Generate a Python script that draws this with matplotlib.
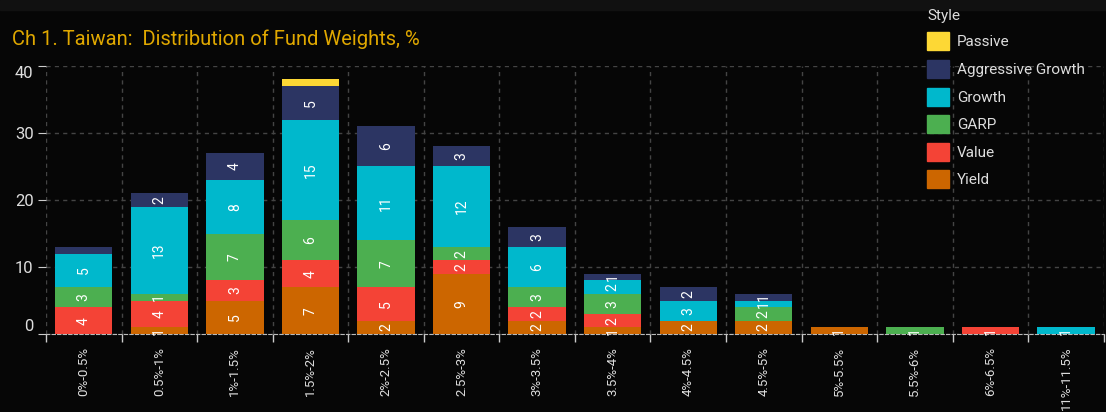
import matplotlib
matplotlib.use("Agg")
import matplotlib.pyplot as plt
from matplotlib.patches import Patch, Rectangle
import numpy as np

plt.rcParams['font.family'] = ['Roboto', 'DejaVu Sans']

bins = ['0%-0.5%', '0.5%-1%', '1%-1.5%', '1.5%-2%', '2%-2.5%', '2.5%-3%',
        '3%-3.5%', '3.5%-4%', '4%-4.5%', '4.5%-5%', '5%-5.5%', '5.5%-6%',
        '6%-6.5%', '11%-11.5%']

# stacked from the bottom up
yield_ = [0, 1, 5, 7, 2, 9, 2, 1, 2, 2, 1, 0, 0, 0]
value = [4, 4, 3, 4, 5, 2, 2, 2, 0, 0, 0, 0, 1, 0]
garp = [3, 1, 7, 6, 7, 2, 3, 3, 0, 2, 0, 1, 0, 0]
growth = [5, 13, 8, 15, 11, 12, 6, 2, 3, 1, 0, 0, 0, 1]
agg_growth = [1, 2, 4, 5, 6, 3, 3, 1, 2, 1, 0, 0, 0, 0]
passive = [0, 0, 0, 1, 0, 0, 0, 0, 0, 0, 0, 0, 0, 0]

series = [('Yield', yield_, '#cc6600'),
          ('Value', value, '#f44336'),
          ('GARP', garp, '#4caf50'),
          ('Growth', growth, '#00b8cc'),
          ('Aggressive Growth', agg_growth, '#2c3563'),
          ('Passive', passive, '#fdd835')]

# segments that carry no label in the original
no_label = {('Aggressive Growth', 0), ('Passive', 3)}

bg = '#060606'
fig = plt.figure(figsize=(11.06, 4.12), dpi=100, facecolor=bg)
fig.patches.append(Rectangle((0, 0.975), 1, 0.025, transform=fig.transFigure,
                             color='#111111', zorder=0))
ax = fig.add_axes([0.0416, 0.189, 0.9564, 0.651])
ax.set_facecolor(bg)

x = np.arange(len(bins))
bottom = np.zeros(len(bins))
for name, vals, col in series:
    vals = np.array(vals, dtype=float)
    ax.bar(x, vals, 0.76, bottom=bottom, color=col, zorder=3, label=name)
    for i, v in enumerate(vals):
        if v > 0 and (name, i) not in no_label:
            ax.text(x[i], bottom[i] + v / 2, '%d' % v, rotation=90,
                    ha='center', va='center', color='white', fontsize=10,
                    zorder=4)
    bottom += vals

ax.set_xlim(-0.5, len(bins) - 0.5)
ax.set_ylim(0, 40)

# grid on category boundaries
ax.set_xticks(x)
ax.set_xticklabels(bins, rotation=90, color='#dddddd', fontsize=9.5)
ax.set_xticks(np.arange(-0.5, len(bins), 1), minor=True)
ax.tick_params(axis='x', which='major', length=0, pad=9)
ax.tick_params(axis='x', which='minor', length=6, color='#cccccc', width=1)
ax.xaxis.grid(True, which='minor', color='#444444', linestyle=(0, (3, 3)),
              linewidth=1)
ax.set_yticks([0, 10, 20, 30, 40])
ax.set_yticklabels(['0', '10', '20', '30', '40'], color='#dddddd', fontsize=12)
ax.tick_params(axis='y', length=6, color='#cccccc', pad=3)
ax.yaxis.grid(True, color='#444444', linestyle=(0, (3, 3)), linewidth=1)
ax.set_axisbelow(True)
tl = ax.get_yticklabels()
tl[0].set_va('bottom')
tl[-1].set_va('top')

for s in ['top', 'right', 'left']:
    ax.spines[s].set_visible(False)
ax.spines['bottom'].set_color('#bbbbbb')
ax.spines['bottom'].set_linestyle((0, (3, 2)))

fig.text(0.011, 0.905, 'Ch 1. Taiwan:  Distribution of Fund Weights, %',
         color='#e0a800', fontsize=14.5, ha='left', va='center')

handles = [Patch(color=c, label=n) for n, _, c in series[::-1]]
leg = fig.legend(handles=handles, title='Style', loc='upper left',
                 bbox_to_anchor=(0.826, 1.012), frameon=False, fontsize=11,
                 title_fontsize=11, labelcolor='#dddddd', handlelength=1.45,
                 handleheight=1.45, handletextpad=0.5, labelspacing=0.62,
                 alignment='left')
leg.get_title().set_color('#dddddd')

fig.savefig('out.png', dpi=100, facecolor=bg)
